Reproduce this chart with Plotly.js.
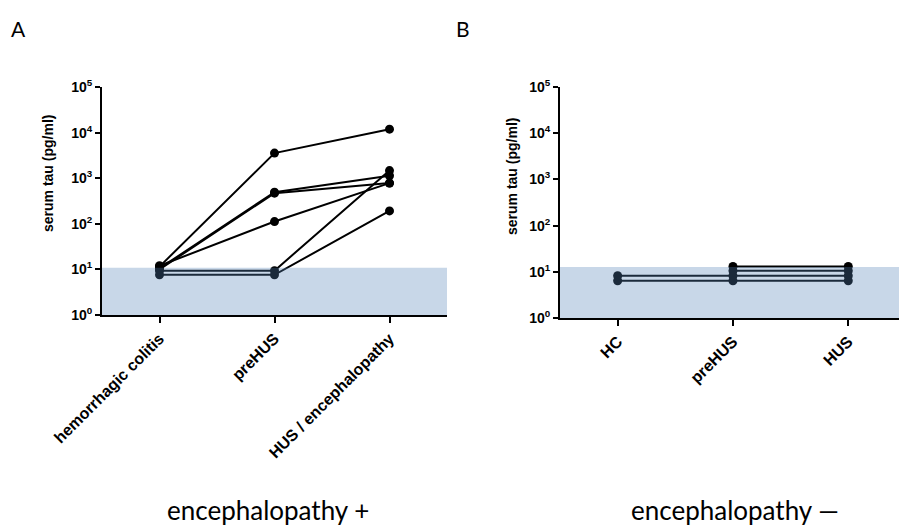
<!DOCTYPE html>
<html>
<head>
<meta charset="utf-8">
<script src="https://cdn.plot.ly/plotly-3.0.1.min.js"></script>
<style>html,body{margin:0;padding:0;background:#fff;}#chart{width:899px;height:525px;}</style>
</head>
<body>
<div id="chart"></div>
<script>
// Panel A: encephalopathy +
const categoriesA = ["hemorrhagic colitis", "preHUS", "HUS / encephalopathy"];
const patientA1 = [11.5, 3550, 11900];
const patientA2 = [10.5, 494, 1130];
const patientA3 = [10, 470, 780];
const patientA4 = [12, 112, 780];
const patientA5 = [9.4, 9.4, 1470];
const patientA6 = [7.6, 7.6, 192];
// Panel B: encephalopathy −
const categoriesB = ["HC", "preHUS", "HUS"];
const seriesB1 = [8.2, 8.2, 8.2];
const seriesB2 = [6.4, 6.4, 6.4];
const seriesB3 = [null, 13, 13];
const seriesB4 = [null, 10.5, 10.5];
// y ticks
const yTickVals = [1, 10, 100, 1000, 10000, 100000];
const yTickText = ["10<sup>0</sup>", "10<sup>1</sup>", "10<sup>2</sup>", "10<sup>3</sup>", "10<sup>4</sup>", "10<sup>5</sup>"];
// detection limits (shaded band top)
const limitA = 10.9;
const limitB = 12.7;

const seriesA = [patientA1, patientA2, patientA3, patientA4, patientA5, patientA6];
const seriesB = [seriesB1, seriesB2, seriesB3, seriesB4];

const lineStyle = {color: "#000", width: 2};
const markerStyle = {color: "#000", size: 9};
const traces = [];
seriesA.forEach(s => traces.push({x: categoriesA, y: s, type: "scatter", mode: "lines+markers",
  line: lineStyle, marker: markerStyle, xaxis: "x", yaxis: "y", showlegend: false, hoverinfo: "y"}));
seriesB.forEach(s => traces.push({x: categoriesB, y: s, type: "scatter", mode: "lines+markers",
  line: lineStyle, marker: markerStyle, xaxis: "x2", yaxis: "y2", showlegend: false, hoverinfo: "y"}));

const W = 899, H = 525;
const FAM = "Liberation Sans, Arial, sans-serif";
const yTickFont = {family: FAM, size: 14, color: "#000", weight: "bold"};
const xTickFont = {family: FAM, size: 16, color: "#000", weight: "bold"};
const titleFont = {family: FAM, size: 14, color: "#000", weight: "bold"};
const capFont = {family: "Lato, sans-serif", size: 26, color: "#000"};
const letterFont = {family: "Lato, sans-serif", size: 21, color: "#000"};

function yAxis(domain) {
  return {type: "log", range: [0, 5], domain: domain, tickvals: yTickVals, ticktext: yTickText,
    showgrid: false, zeroline: false, showline: true, linewidth: 2, linecolor: "#000",
    ticks: "outside", ticklen: 5, tickwidth: 2, tickcolor: "#000", tickfont: yTickFont,
    fixedrange: true};
}
function xAxis(domain, range, anchor) {
  return {type: "category", domain: domain, range: range, anchor: anchor,
    showgrid: false, zeroline: false, showline: true, linewidth: 2, linecolor: "#000",
    ticks: "outside", ticklen: 6, tickwidth: 2, tickcolor: "#000", tickfont: xTickFont,
    tickangle: -45, fixedrange: true};
}

const layout = {
  width: W, height: H,
  margin: {l: 0, r: 0, t: 0, b: 0},
  paper_bgcolor: "#fff", plot_bgcolor: "rgba(0,0,0,0)",
  font: {family: FAM},
  xaxis: xAxis([102 / W, 447 / W], [-0.5, 2.5], "y"),
  yaxis: Object.assign(yAxis([1 - 315 / H, 1 - 87 / H]), {anchor: "x"}),
  xaxis2: xAxis([560 / W, 1], [-0.5, 2.44], "y2"),
  yaxis2: Object.assign(yAxis([1 - 318 / H, 1 - 87 / H]), {anchor: "x2"}),
  shapes: [
    {type: "rect", xref: "x domain", yref: "y", x0: 0, x1: 1, y0: 1, y1: limitA,
      fillcolor: "rgba(85,132,185,0.32)", line: {width: 0}, layer: "above"},
    {type: "rect", xref: "x2 domain", yref: "y2", x0: 0, x1: 1, y0: 1, y1: limitB,
      fillcolor: "rgba(85,132,185,0.32)", line: {width: 0}, layer: "above"}
  ],
  annotations: [
    {text: "serum tau (pg/ml)", textangle: -90, xref: "paper", yref: "paper", x: 48 / W, y: 1 - 174 / H,
      xanchor: "center", yanchor: "middle", showarrow: false, font: titleFont},
    {text: "serum tau (pg/ml)", textangle: -90, xref: "paper", yref: "paper", x: 512 / W, y: 1 - 177 / H,
      xanchor: "center", yanchor: "middle", showarrow: false, font: titleFont},
    {text: "A", xref: "paper", yref: "paper", x: 18 / W, y: 1 - 28 / H, xanchor: "center", yanchor: "middle",
      showarrow: false, font: letterFont},
    {text: "B", xref: "paper", yref: "paper", x: 463 / W, y: 1 - 28 / H, xanchor: "center", yanchor: "middle",
      showarrow: false, font: letterFont},
    {text: "encephalopathy +", xref: "paper", yref: "paper", x: 268 / W, y: 1 - 510 / H, xanchor: "center", yanchor: "middle",
      showarrow: false, font: capFont},
    {text: "encephalopathy —", xref: "paper", yref: "paper", x: 735 / W, y: 1 - 510 / H, xanchor: "center", yanchor: "middle",
      showarrow: false, font: capFont}
  ]
};

Plotly.newPlot("chart", traces, layout, {staticPlot: true, displayModeBar: false});
</script>
</body>
</html>
